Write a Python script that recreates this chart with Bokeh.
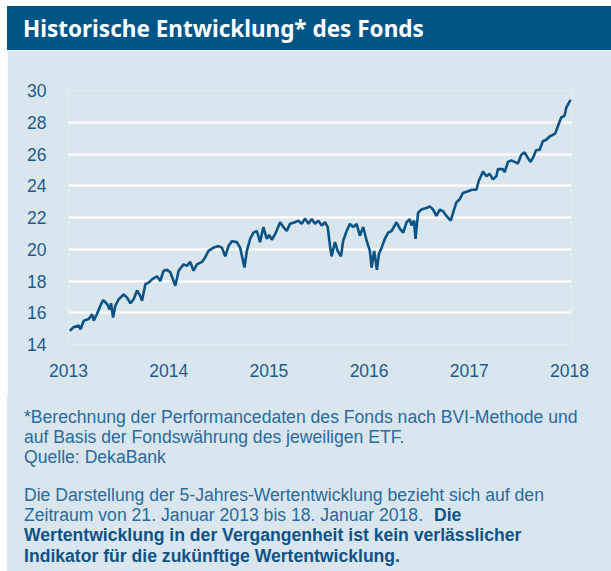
from bokeh.plotting import figure
from bokeh.layouts import column
from bokeh.models import Div, FixedTicker, Range1d
from bokeh.embed import file_html
from bokeh.resources import INLINE

# ---- data ----
years = [2013.013, 2013.053, 2013.103, 2013.120, 2013.152, 2013.202, 2013.236, 2013.252,
         2013.286, 2013.319, 2013.346, 2013.385, 2013.411, 2013.425, 2013.445, 2013.468,
         2013.501, 2013.551, 2013.585, 2013.618, 2013.650, 2013.684, 2013.717, 2013.734,
         2013.767, 2013.800, 2013.834, 2013.883, 2013.916, 2013.949, 2013.983, 2014.016,
         2014.049, 2014.066, 2014.099, 2014.148, 2014.182, 2014.215, 2014.248, 2014.282,
         2014.332, 2014.365, 2014.397, 2014.447, 2014.497, 2014.531, 2014.564, 2014.597,
         2014.630, 2014.680, 2014.713, 2014.756, 2014.780, 2014.813, 2014.846, 2014.880,
         2014.912, 2014.945, 2014.979, 2015.002, 2015.029, 2015.062, 2015.112, 2015.145,
         2015.178, 2015.211, 2015.261, 2015.294, 2015.328, 2015.361, 2015.394, 2015.427,
         2015.460, 2015.493, 2015.527, 2015.560, 2015.587, 2015.610, 2015.626, 2015.659,
         2015.686, 2015.719, 2015.742, 2015.776, 2015.809, 2015.842, 2015.875, 2015.908,
         2015.941, 2015.975, 2016.008, 2016.025, 2016.051, 2016.078, 2016.098, 2016.125,
         2016.157, 2016.190, 2016.224, 2016.274, 2016.307, 2016.340, 2016.374, 2016.406,
         2016.423, 2016.449, 2016.463, 2016.489, 2016.523, 2016.573, 2016.606, 2016.639,
         2016.672, 2016.705, 2016.738, 2016.772, 2016.815, 2016.838, 2016.871, 2016.904,
         2016.937, 2016.987, 2017.027, 2017.071, 2017.094, 2017.137, 2017.171, 2017.203,
         2017.236, 2017.270, 2017.286, 2017.336, 2017.353, 2017.386, 2017.419, 2017.452,
         2017.485, 2017.519, 2017.552, 2017.585, 2017.612, 2017.635, 2017.668, 2017.701,
         2017.734, 2017.768, 2017.801, 2017.834, 2017.858, 2017.884, 2017.917, 2017.950,
         2017.967, 2018.000, 2018.017]
prices = [14.86, 15.10, 15.20, 14.95, 15.50, 15.60, 15.90, 15.50,
          15.95, 16.45, 16.80, 16.55, 16.20, 16.60, 15.70, 16.45,
          16.85, 17.15, 16.95, 16.60, 16.85, 17.40, 17.05, 16.75,
          17.80, 17.90, 18.10, 18.30, 18.00, 18.65, 18.70, 18.55,
          18.00, 17.70, 18.65, 19.05, 18.95, 19.20, 18.65, 19.05,
          19.20, 19.50, 19.90, 20.10, 20.20, 20.10, 19.55, 20.20,
          20.50, 20.45, 20.10, 18.85, 19.90, 20.65, 21.05, 21.15,
          20.45, 21.40, 20.65, 20.90, 20.60, 20.95, 21.70, 21.40,
          21.15, 21.60, 21.70, 21.80, 21.60, 21.95, 21.60, 21.90,
          21.60, 21.80, 21.50, 21.70, 21.40, 20.20, 19.55, 20.45,
          19.90, 19.55, 20.55, 21.15, 21.60, 21.40, 21.60, 20.85,
          21.40, 20.55, 19.90, 18.85, 19.90, 18.70, 19.70, 20.10,
          20.65, 21.05, 21.15, 21.70, 21.30, 21.05, 21.70, 21.90,
          21.50, 21.80, 20.65, 22.30, 22.50, 22.60, 22.70, 22.50,
          22.10, 22.50, 22.40, 22.10, 21.80, 22.30, 22.95, 23.15,
          23.55, 23.65, 23.75, 23.75, 24.30, 24.90, 24.60, 24.75,
          24.40, 24.60, 25.05, 25.05, 24.85, 25.50, 25.60, 25.50,
          25.40, 25.95, 26.10, 25.75, 25.50, 25.75, 26.25, 26.25,
          26.80, 26.90, 27.10, 27.20, 27.30, 27.75, 28.30, 28.40,
          28.90, 29.30, 29.40]
x_ticks = [2013, 2014, 2015, 2016, 2017, 2018]
y_ticks = [14, 16, 18, 20, 22, 24, 26, 28, 30]
grid_ticks = [16, 18, 20, 22, 24, 26, 28, 30]
title_text = "Historische Entwicklung* des Fonds"
note_lines = [
    "*Berechnung der Performancedaten des Fonds nach BVI-Methode und",
    "auf Basis der Fondswährung des jeweiligen ETF.",
    "Quelle: DekaBank",
]
period_line_1 = "Die Darstellung der 5-Jahres-Wertentwicklung bezieht sich auf den"
period_line_2 = "Zeitraum von 21. Januar 2013 bis 18. Januar 2018."
bold_lines = [
    "Die",
    "Wertentwicklung in der Vergangenheit ist kein verlässlicher",
    "Indikator für die zukünftige Wertentwicklung.",
]

# ---- styles / layout ----
PANEL = "#dae6ee"
HEADER = "#005587"
LINE = "#0b5384"
TICK = "#1d5b8c"
NOTE = "#2a6a9e"
NOTE_BOLD = "#0d5288"

LEFT, TOP = 7, 6           # white page margin
W = 611 - LEFT             # panel width
HEAD_H = 44                # header bar height
MAIN_H = 345               # chart block height
FOOT_H = 571 - TOP - HEAD_H - MAIN_H

# header bar
head_html = (
    f'<div style="width:{W}px;height:{HEAD_H}px;box-sizing:border-box;'
    f'background:{HEADER};color:white;font-family:\'Noto Sans\';font-weight:bold;'
    f'font-size:22.5px;line-height:{HEAD_H}px;padding:1px 0 0 16px;white-space:nowrap;">'
    f'{title_text}</div>'
)
head = Div(text=head_html, width=W, height=HEAD_H, margin=0,
           styles={"background-color": HEADER, "overflow": "hidden"})

# main chart
p = figure(width=W, height=MAIN_H,
           x_range=Range1d(2013.0, 2018.02), y_range=Range1d(14, 30),
           output_backend="svg", toolbar_location=None,
           min_border_left=68 - LEFT, min_border_right=40,
           min_border_top=90 - TOP - HEAD_H,
           min_border_bottom=TOP + HEAD_H + MAIN_H - 344,
           background_fill_color=PANEL, border_fill_color=PANEL,
           outline_line_color=None)
p.line(years, prices, line_color=LINE, line_width=2.6)

for ax in (p.xaxis, p.yaxis):
    ax.axis_line_color = None
    ax.major_tick_line_color = None
    ax.minor_tick_line_color = None
    ax.major_tick_out = 0
    ax.major_tick_in = 0
    ax.major_label_text_color = TICK
    ax.major_label_text_font = "Liberation Sans"
    ax.major_label_text_font_size = "17.5px"
p.xaxis.ticker = FixedTicker(ticks=x_ticks)
p.yaxis.ticker = FixedTicker(ticks=y_ticks)
p.xaxis.major_label_standoff = 19
p.yaxis.major_label_standoff = 22
p.xgrid.visible = False
p.ygrid.ticker = FixedTicker(ticks=grid_ticks)
p.ygrid.grid_line_color = "white"
p.ygrid.grid_line_width = 2

# footnotes
para1 = "<br>".join(note_lines)
para2 = (f"{period_line_1}<br>{period_line_2} "
         f'<b style="color:{NOTE_BOLD};margin-left:6px;">{bold_lines[0]}</b><br>'
         f'<b style="color:{NOTE_BOLD};">{bold_lines[1]}</b><br>'
         f'<b style="color:{NOTE_BOLD};">{bold_lines[2]}</b>')
foot_html = (
    f'<div style="width:{W}px;height:{FOOT_H}px;box-sizing:border-box;background:{PANEL};'
    f'color:{NOTE};font-family:\'Liberation Sans\';font-size:17.6px;white-space:nowrap;'
    f'padding:11.9px 0 0 17px;">'
    f'<div style="line-height:20px;">{para1}</div>'
    f'<div style="line-height:20.3px;margin-top:17.85px;">{para2}</div>'
    f'</div>'
)
foot = Div(text=foot_html, width=W, height=FOOT_H, margin=0,
           styles={"background-color": PANEL, "overflow": "hidden"})

layout = column(head, p, foot, spacing=0, margin=(TOP, 0, 0, LEFT))
open("out.html", "w").write(file_html(layout, INLINE))
